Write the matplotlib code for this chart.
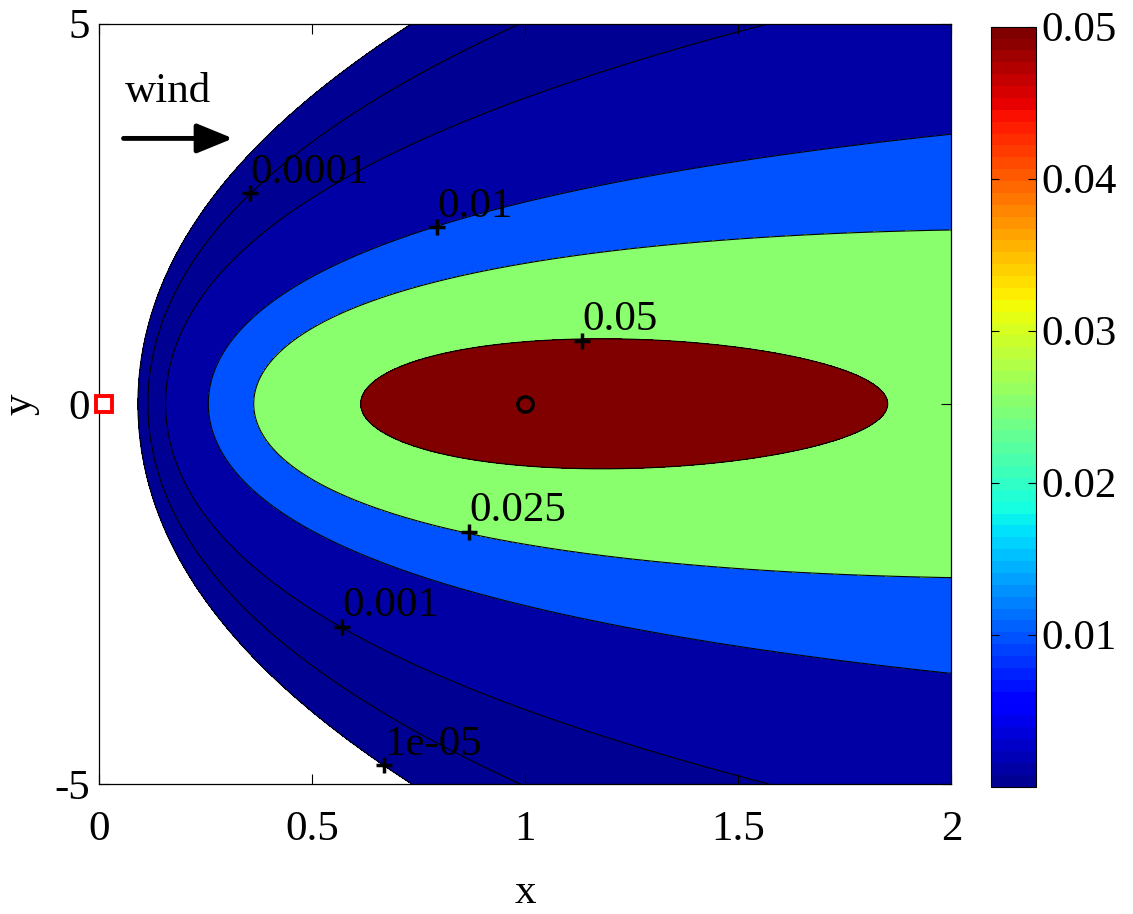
import numpy as np
import matplotlib
matplotlib.use("Agg")
import matplotlib.pyplot as plt
from matplotlib.colors import Normalize, ListedColormap
from matplotlib.cm import ScalarMappable

plt.rcParams["font.family"] = "serif"
plt.rcParams["font.serif"] = ["Liberation Serif", "DejaVu Serif"]
plt.rcParams["axes.unicode_minus"] = False

# contour levels and their labels
levels = [1e-5, 1e-4, 1e-3, 0.01, 0.025, 0.05]
label_text = ["1e-05", "0.0001", "0.001", "0.01", "0.025", "0.05"]

cx = np.array([0.0995, 0.119, 0.162, 0.256, 0.359, 0.612, 1.858,
               0.354, 0.793, 1.133, 0.868, 0.570, 0.668,
               2.0, 2.0, 2.0, 2.0,
               0.73, 0.73, 0.99, 1.0, 1.51, 1.567,
               1.175, 1.175, 0.706, 0.706, 1.41, 1.41,
               0.706])
cy = np.array([0, 0, 0, 0, 0, 0, 0,
               2.77, 2.32, 0.829, -1.68, -2.93, -4.75,
               3.537, -3.51, 2.288, -2.26,
               5, -5, 5, -5, 5, -5,
               0.815, -0.80, 0.556, -0.496, 0.785, -0.80,
               -1.46])
clev = np.array([1e-5, 1e-4, 1e-3, 0.01, 0.025, 0.05, 0.05,
                 1e-4, 0.01, 0.05, 0.025, 1e-3, 1e-5,
                 0.01, 0.01, 0.025, 0.025,
                 1e-5, 1e-5, 1e-4, 1e-4, 1e-3, 1e-3,
                 0.05, 0.05, 0.05, 0.05, 0.05, 0.05,
                 0.025])

# clabel markers
lab_x = [0.668, 0.354, 0.570, 0.793, 0.868, 1.133]
lab_y = [-4.75, 2.77, -2.93, 2.32, -1.68, 0.829]

source = (0.012, 0.0)
sensor = (1.0, 0.0)


# smooth plume surface fitted to the read contour points
def features(x, y):
    return np.stack([np.ones_like(x), np.log(x), 1 / x, y ** 2 / x, y ** 2], axis=-1)


A = features(cx, cy)
b = np.log(clev)
coef = np.linalg.lstsq(A, b, rcond=None)[0]
# reweight so that the fit error is measured as a distance on the picture
for _ in range(30):
    gx = coef[1] / cx - coef[2] / cx ** 2 - coef[3] * cy ** 2 / cx ** 2
    gy = 2 * coef[3] * cy / cx + 2 * coef[4] * cy
    w = 1 / np.sqrt((gx / 426) ** 2 + (gy / 76) ** 2 + 1e-6)
    coef = np.linalg.lstsq(A * w[:, None], b * w, rcond=None)[0]

xg = np.linspace(0.001, 2, 700)
yg = np.linspace(-5, 5, 700)
X, Y = np.meshgrid(xg, yg)
Z = np.exp(features(X, Y) @ coef)

# matlab style jet(64)
jet = plt.get_cmap("jet")
cmap = ListedColormap(jet(np.arange(1, 65) / 64))
norm = Normalize(vmin=0, vmax=0.05)
fill_colors = [cmap.colors[min(int(norm(l) * 64), 63)] for l in levels]

fig = plt.figure(figsize=(11.33, 9.14), dpi=100)
ax = fig.add_axes([0.0876, 0.1422, 0.7522, 0.832])
cax = fig.add_axes([0.8744, 0.1393, 0.04, 0.8315])

ax.contourf(X, Y, Z, levels=levels + [Z.max()], colors=fill_colors)
ax.contour(X, Y, Z, levels=levels, colors="k", linewidths=0.8)

ax.plot(lab_x, lab_y, "k+", ms=12, mew=2.5, zorder=5)
for t, x, y in zip(label_text, lab_x, lab_y):
    ax.annotate(t, xy=(x, y), xytext=(0, 1), textcoords="offset points",
                ha="left", va="bottom", fontsize=31)

ax.plot(*sensor, "o", mfc="none", mec="k", ms=11, mew=2.4, zorder=6)
ax.plot(*source, "s", mfc="white", mec="red", ms=12, mew=2.8, zorder=6, clip_on=False)

ax.text(0.06, 3.975, "wind", fontsize=31, ha="left", va="baseline")
ax.annotate("", xy=(0.314, 3.49), xytext=(0.057, 3.49),
            arrowprops=dict(arrowstyle="-|>,head_length=1.1,head_width=0.45",
                            lw=3.5, color="k", mutation_scale=20, shrinkA=0, shrinkB=0))

ax.set_xlim(0, 2)
ax.set_ylim(-5, 5)
ax.set_xticks([0, 0.5, 1, 1.5, 2])
ax.set_xticklabels(["0", "0.5", "1", "1.5", "2"])
ax.set_yticks([-5, 0, 5])
ax.tick_params(direction="in", top=True, right=True, length=7, width=0.8, labelsize=31)
ax.tick_params(axis="x", pad=19)
ax.tick_params(axis="y", pad=6.5)
ax.set_xlabel("x", fontsize=31)
ax.set_ylabel("y", fontsize=31)
ax.xaxis.set_label_coords(0.5, -0.118)
ax.yaxis.set_label_coords(-0.07, 0.5)
for s in ax.spines.values():
    s.set_linewidth(0.9)

cb = fig.colorbar(ScalarMappable(norm=norm, cmap=cmap), cax=cax)
cb.set_ticks([0.01, 0.02, 0.03, 0.04, 0.05])
cb.set_ticklabels(["0.01", "0.02", "0.03", "0.04", "0.05"])
cax.tick_params(direction="in", left=True, right=True, length=6, width=0.8,
                labelsize=31, pad=4)
cb.outline.set_linewidth(0.8)

fig.savefig("out.png", dpi=100)
